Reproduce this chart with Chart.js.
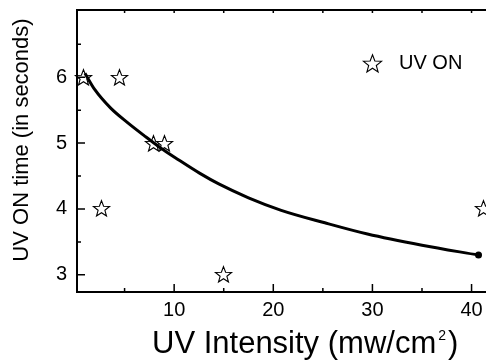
<!DOCTYPE html>
<html>
<head>
<meta charset="utf-8">
<script src="https://cdn.jsdelivr.net/npm/chart.js@4"></script>
<style>
  html, body { margin: 0; padding: 0; background: #fff; }
  #wrap { width: 486px; height: 360px; overflow: hidden; }
  canvas { display: block; }
</style>
</head>
<body>
<div id="wrap"><canvas id="uvChart" width="540" height="360"></canvas></div>
<script>
// Measured points: UV intensity vs UV ON time
const intensity = [0.9, 4.5, 7.9, 9.0, 2.7, 15.0, 41.2];
const onTime = [6, 6, 5, 5, 4, 3, 4];

// Fitted curve
const fitX = [1.0, 2.0, 3.6, 5.3, 7.0, 8.6, 10.3, 12.6, 14.5, 17.5, 20.8, 25.2, 29.5, 35, 40.7];
const fitY = [6.06, 5.81, 5.53, 5.31, 5.11, 4.93, 4.76, 4.54, 4.38, 4.17, 3.98, 3.79, 3.62, 3.45, 3.30];

// Axis ticks
const xTicks = [10, 20, 30, 40];
const yTicks = [3, 4, 5, 6];
const xMinor = [5, 15, 25, 35, 45];
const yMinor = [3.5, 4.5, 5.5, 6.5];

const FONT = '"Liberation Sans", Arial, sans-serif';

// Outlined five-point star used as the marker
function makeStar(r) {
  const c = document.createElement('canvas');
  const size = Math.ceil(r * 2 + 4);
  c.width = size; c.height = size;
  const g = c.getContext('2d');
  const cx = size / 2, cy = size / 2 + r * 0.08;
  g.beginPath();
  for (let i = 0; i < 10; i++) {
    const rad = i % 2 === 0 ? r : r * 0.42;
    const ang = -Math.PI / 2 + i * Math.PI / 5;
    const px = cx + rad * Math.cos(ang), py = cy + rad * Math.sin(ang);
    if (i === 0) g.moveTo(px, py); else g.lineTo(px, py);
  }
  g.closePath();
  g.fillStyle = '#fff';
  g.fill();
  g.strokeStyle = '#000';
  g.lineWidth = 1.1;
  g.stroke();
  return c;
}
const starMark = makeStar(8.5);
const legendStar = makeStar(9.5);

// Frame, inward ticks, star markers, titles and legend
const axisFrame = {
  id: 'axisFrame',
  beforeDatasetsDraw(chart) {
    // stars go under the fitted line, snapped to whole pixels
    const { ctx } = chart;
    const meta = chart.getDatasetMeta(1);
    meta.data.forEach(pt => {
      ctx.drawImage(starMark, Math.round(pt.x - starMark.width / 2), Math.round(pt.y - starMark.height / 2));
    });
  },
  afterDatasetsDraw(chart) {
    const { ctx, chartArea: a, scales: { x, y } } = chart;
    ctx.save();
    ctx.strokeStyle = '#000';
    ctx.lineWidth = 2;
    ctx.beginPath();
    ctx.moveTo(a.left, a.top); ctx.lineTo(a.right, a.top);
    ctx.moveTo(a.left, a.top - 1); ctx.lineTo(a.left, a.bottom);
    ctx.lineTo(a.right, a.bottom);
    ctx.stroke();

    ctx.lineWidth = 1.5;
    ctx.beginPath();
    xTicks.forEach(v => {
      const px = x.getPixelForValue(v);
      ctx.moveTo(px, a.bottom); ctx.lineTo(px, a.bottom - 8);
      ctx.moveTo(px, a.top); ctx.lineTo(px, a.top + 3);
    });
    xMinor.forEach(v => {
      const px = x.getPixelForValue(v);
      ctx.moveTo(px, a.bottom); ctx.lineTo(px, a.bottom - 4);
      ctx.moveTo(px, a.top); ctx.lineTo(px, a.top + 3);
    });
    yTicks.forEach(v => {
      const py = y.getPixelForValue(v);
      ctx.moveTo(a.left, py); ctx.lineTo(a.left + 8, py);
    });
    yMinor.forEach(v => {
      const py = y.getPixelForValue(v);
      ctx.moveTo(a.left, py); ctx.lineTo(a.left + 4, py);
    });
    ctx.stroke();
    ctx.restore();
  },
  afterDraw(chart) {
    const { ctx } = chart;
    ctx.save();
    ctx.fillStyle = '#000';
    // y axis title
    ctx.translate(22, 140);
    ctx.rotate(-Math.PI / 2);
    ctx.font = '22px ' + FONT;
    ctx.textAlign = 'center';
    ctx.textBaseline = 'middle';
    ctx.fillText('UV ON time (in seconds)', 0, 0);
    ctx.restore();

    // x axis title with a small raised "2"
    ctx.save();
    ctx.fillStyle = '#000';
    ctx.textAlign = 'left';
    ctx.textBaseline = 'alphabetic';
    ctx.font = '31px ' + FONT;
    const main = 'UV Intensity (mw/cm';
    ctx.fillText(main, 152, 353);
    let tx = 152 + ctx.measureText(main).width + 2;
    ctx.font = '14px ' + FONT;
    ctx.fillText('2', tx, 340);
    tx += ctx.measureText('2').width + 2;
    ctx.font = '31px ' + FONT;
    ctx.fillText(')', tx, 353);
    ctx.restore();

    // legend
    ctx.save();
    ctx.drawImage(legendStar, Math.round(372 - legendStar.width / 2), Math.round(63 - legendStar.height / 2));
    ctx.font = '20px ' + FONT;
    ctx.fillStyle = '#000';
    ctx.textAlign = 'left';
    ctx.textBaseline = 'middle';
    ctx.fillText('UV ON', 399, 63);
    ctx.restore();
  }
};

const ctx = document.getElementById('uvChart').getContext('2d');
new Chart(ctx, {
  type: 'scatter',
  data: {
    datasets: [
      {
        label: 'Fit',
        type: 'line',
        data: fitX.map((v, i) => ({ x: v, y: fitY[i] })),
        borderColor: '#000',
        borderWidth: 3,
        cubicInterpolationMode: 'monotone',
        pointRadius: fitX.map((_, i) => i === fitX.length - 1 ? 3.5 : 0),
        pointBackgroundColor: '#000',
        pointBorderWidth: 0,
        fill: false
      },
      {
        label: 'UV ON',
        data: intensity.map((v, i) => ({ x: v, y: onTime[i] })),
        pointRadius: 0,
        pointHoverRadius: 0,
        showLine: false
      }
    ]
  },
  options: {
    responsive: false,
    animation: false,
    devicePixelRatio: 1,
    layout: { padding: { top: 10, right: 0, bottom: 0, left: 0 } },
    plugins: {
      legend: { display: false },
      tooltip: { enabled: false }
    },
    scales: {
      x: {
        type: 'linear',
        min: 0.2,
        max: 46.5,
        grid: { display: false, drawTicks: false },
        border: { display: false },
        afterBuildTicks: s => { s.ticks = xTicks.map(v => ({ value: v })); },
        afterFit: s => { s.height = 68; s.paddingLeft = 0; s.paddingRight = 0; },
        ticks: {
          color: '#000',
          font: { family: FONT, size: 20 },
          padding: 6,
          maxRotation: 0,
          autoSkip: false
        }
      },
      y: {
        min: 2.74,
        max: 7.02,
        grid: { display: false, drawTicks: false },
        border: { display: false },
        afterBuildTicks: s => { s.ticks = yTicks.map(v => ({ value: v })); },
        afterFit: s => { s.width = 77; s.paddingTop = 0; s.paddingBottom = 0; },
        ticks: {
          color: '#000',
          font: { family: FONT, size: 20 },
          padding: 10
        }
      }
    }
  },
  plugins: [axisFrame]
});
</script>
</body>
</html>
